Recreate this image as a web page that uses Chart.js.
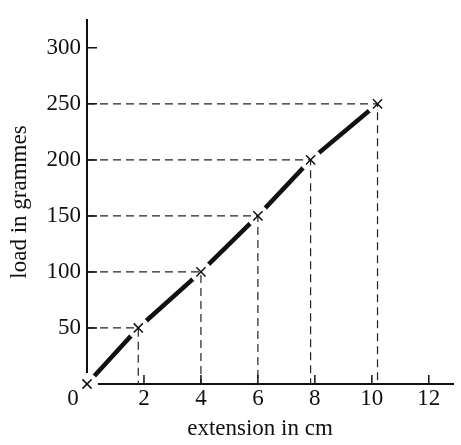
<!DOCTYPE html>
<html>
<head>
<meta charset="utf-8">
<script src="https://cdn.jsdelivr.net/npm/chart.js@4"></script>
<style>
  html, body { margin: 0; padding: 0; background: #fff; }
  canvas { display: block; }
</style>
</head>
<body>
<canvas id="chart" width="461" height="445"></canvas>
<script>
// readings
const extension = [0, 1.8, 4.0, 6.0, 7.85, 10.2]
const load = [0, 50, 100, 150, 200, 250]
const xTicks = [2, 4, 6, 8, 10, 12]
const yTicks = [50, 100, 150, 200, 250, 300]
const xTitle = 'extension in cm'
const yTitle = 'load in grammes'

const serif = '"Liberation Serif", "DejaVu Serif", serif'
const ink = '#111'

const points = extension.map((x, i) => ({ x: x, y: load[i] }))
const crosses = extension.map((x, i) => ({ x: x, y: load[i] }))

// dashed guides from each reading back to the axes
const guides = points.slice(1).map(p => ({
  data: [{ x: 0, y: p.y }, { x: p.x, y: p.y }, { x: p.x, y: 0 }],
  borderColor: '#222',
  borderWidth: 1.2,
  borderDash: [8, 5],
  pointRadius: 0,
  fill: false,
  clip: false,
  order: 2
}))

const axisExtras = {
  id: 'axisExtras',
  // cut a small gap in the thick line round each reading
  afterDatasetDraw(chart, args) {
    if (args.index !== 0) return
    const ctx = chart.ctx
    ctx.save()
    ctx.fillStyle = '#fff'
    args.meta.data.forEach(pt => {
      ctx.beginPath()
      ctx.arc(pt.x, pt.y, 11, 0, Math.PI * 2)
      ctx.fill()
    })
    ctx.restore()
  },
  afterDraw(chart) {
    const ctx = chart.ctx
    const x = chart.scales.x
    const y = chart.scales.y
    const x0 = x.getPixelForValue(0)
    const y0 = y.getPixelForValue(0)
    ctx.save()
    ctx.strokeStyle = ink
    ctx.lineWidth = 1.5
    ctx.beginPath()
    xTicks.forEach(v => {
      const px = x.getPixelForValue(v)
      ctx.moveTo(px, y0)
      ctx.lineTo(px, y0 - 9)
    })
    yTicks.forEach(v => {
      const py = y.getPixelForValue(v)
      ctx.moveTo(x0, py)
      ctx.lineTo(x0 + 10, py)
    })
    ctx.stroke()

    ctx.fillStyle = ink
    ctx.font = '23px ' + serif
    ctx.textAlign = 'center'
    ctx.textBaseline = 'middle'
    ctx.fillText('0', x0 - 14, y0 + 15)

    ctx.textBaseline = 'alphabetic'
    ctx.fillText(xTitle, 260, 435)
    ctx.translate(26, 202)
    ctx.rotate(-Math.PI / 2)
    ctx.fillText(yTitle, 0, 0)
    ctx.restore()
  }
}

new Chart(document.getElementById('chart'), {
  type: 'line',
  data: {
    datasets: [
      {
        data: points,
        borderColor: ink,
        borderWidth: 4.5,
        pointRadius: 0,
        tension: 0,
        fill: false,
        clip: false,
        order: 3
      },
      ...guides,
      {
        data: crosses,
        showLine: false,
        pointStyle: 'crossRot',
        pointRadius: 6.5,
        pointBorderWidth: 1.5,
        pointBorderColor: ink,
        clip: false,
        order: 1
      }
    ]
  },
  options: {
    responsive: false,
    animation: false,
    events: [],
    layout: { padding: { top: 10, right: 3, left: 0, bottom: 0 } },
    plugins: {
      legend: { display: false },
      tooltip: { enabled: false }
    },
    scales: {
      x: {
        type: 'linear',
        min: 0,
        max: 12.85,
        z: 1,
        afterBuildTicks: s => { s.ticks = xTicks.map(v => ({ value: v })) },
        afterFit: s => { s.height = 61 },
        grid: { display: false, drawTicks: false },
        border: { display: true, color: ink, width: 2 },
        ticks: {
          color: ink,
          padding: 1,
          maxRotation: 0,
          font: { family: serif, size: 23 }
        }
      },
      y: {
        type: 'linear',
        min: 0,
        max: 325,
        z: 1,
        afterBuildTicks: s => { s.ticks = yTicks.map(v => ({ value: v })) },
        afterFit: s => { s.width = 87 },
        grid: { display: false, drawTicks: false },
        border: { display: true, color: ink, width: 2 },
        ticks: {
          color: ink,
          padding: 6,
          font: { family: serif, size: 23 }
        }
      }
    }
  },
  plugins: [axisExtras]
})
</script>
</body>
</html>
